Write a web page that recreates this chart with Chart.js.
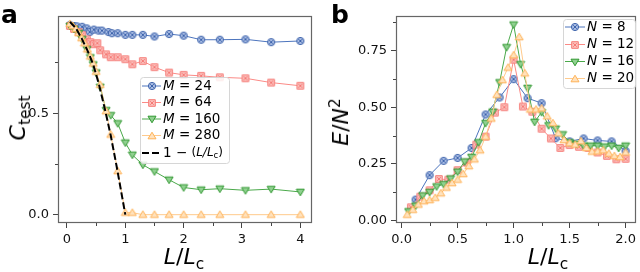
<!DOCTYPE html>
<html><head><meta charset="utf-8">
<script src="https://cdn.jsdelivr.net/npm/chart.js@4.4.1/dist/chart.umd.min.js"></script>
<style>
html,body{margin:0;padding:0;background:#fff;width:640px;height:272px;overflow:hidden;font-family:"DejaVu Sans",sans-serif;}
.wrap{position:absolute;top:0;}
.lbl{position:absolute;font-family:"DejaVu Sans";font-size:22px;color:#000;white-space:nowrap;line-height:1;}
.it{font-style:italic;}
.sub{font-size:70%;position:relative;top:0.3em;}
.sup{font-size:70%;position:relative;top:-0.5em;}
.pl{position:absolute;font-family:"DejaVu Sans";font-weight:bold;font-size:25px;line-height:1;color:#000;}
</style></head>
<body>
<div class="wrap" style="left:0;width:330px;height:272px"><canvas id="ca" width="330" height="272"></canvas></div>
<div class="wrap" style="left:330px;width:310px;height:272px"><canvas id="cb" width="310" height="272"></canvas></div>
<div class="pl" style="left:1px;top:2px">a</div>
<div class="pl" style="left:331px;top:2px">b</div>
<div class="lbl" style="left:184px;top:257px;transform:translate(-50%,-50%)"><span class="it">L</span>/<span class="it">L</span><span class="sub">c</span></div>
<div class="lbl" style="left:548px;top:257px;transform:translate(-50%,-50%)"><span class="it">L</span>/<span class="it">L</span><span class="sub">c</span></div>
<div class="lbl" style="left:18px;top:118px;transform:translate(-50%,-50%) rotate(-90deg)"><span class="it">C</span><span class="sub">test</span></div>
<div class="lbl" style="left:341px;top:122px;transform:translate(-50%,-50%) rotate(-90deg)"><span class="it">E</span>/<span class="it">N</span><span class="sup">2</span></div>
<script>
// ---------- Panel a data ----------
const xM24 = [0.05,0.12,0.17,0.26,0.34,0.39,0.46,0.54,0.6,0.71,0.77,0.87,1.0,1.12,1.3,1.5,1.75,2.0,2.3,2.62,3.06,3.5,4.0];
const yM24 = [0.935,0.93,0.928,0.926,0.918,0.900,0.912,0.907,0.907,0.900,0.894,0.894,0.886,0.886,0.886,0.878,0.890,0.882,0.862,0.862,0.864,0.850,0.856];
const xM64 = [0.05,0.12,0.2,0.26,0.34,0.4,0.46,0.52,0.57,0.67,0.75,0.87,1.0,1.12,1.3,1.5,1.75,2.0,2.3,2.62,3.06,3.5,4.0];
const yM64 = [0.93,0.915,0.9,0.885,0.864,0.85,0.84,0.845,0.81,0.79,0.776,0.776,0.766,0.741,0.757,0.727,0.70,0.689,0.684,0.677,0.672,0.651,0.635];
const xM160 = [0.05,0.12,0.2,0.26,0.34,0.4,0.45,0.5,0.57,0.67,0.75,0.87,1.0,1.12,1.3,1.5,1.75,2.0,2.3,2.62,3.06,3.5,4.0];
const yM160 = [0.93,0.915,0.895,0.865,0.815,0.775,0.74,0.70,0.63,0.515,0.49,0.45,0.355,0.295,0.246,0.213,0.172,0.134,0.123,0.128,0.12,0.126,0.112];
const xM280 = [0.05,0.1,0.15,0.2,0.25,0.3,0.35,0.4,0.45,0.5,0.57,0.67,0.75,0.87,1.0,1.12,1.3,1.5,1.75,2.0,2.3,2.62,3.06,3.5,4.0];
const yM280 = [0.94,0.93,0.915,0.895,0.87,0.845,0.815,0.78,0.745,0.705,0.64,0.51,0.395,0.215,0.01,0.01,0.0,0.0,0.0,0.0,0.0,0.0,0.0,0.0,0.0];
const xRef = [0.05,0.15,0.25,0.35,0.45,0.55,0.65,0.75,0.85,0.95,1.0];
const yRef = [0.95,0.92,0.87,0.81,0.74,0.64,0.52,0.39,0.24,0.08,0.0];
const xTicksA = [0,1,2,3,4];
const xTickLabelsA = ['0','1','2','3','4'];
const xMinorA = [0.5,1.5,2.5,3.5];
const yTicksA = [0,0.5];
const yTickLabelsA = ['0.0','0.5'];
const yMinorA = [0.25,0.75];
const legendA = ['M = 24','M = 64','M = 160','M = 280','1 − (L/Lc)'];

// ---------- Panel b data ----------
const xN8 = [0.125,0.25,0.375,0.5,0.625,0.75,0.875,1.0,1.125,1.25,1.375,1.5,1.625,1.75,1.875,2.0];
const yN8 = [0.092,0.20,0.263,0.276,0.32,0.468,0.543,0.624,0.54,0.518,0.363,0.349,0.362,0.353,0.349,0.307];
const xN12 = [0.083,0.167,0.25,0.333,0.417,0.5,0.583,0.667,0.75,0.833,0.917,1.0,1.083,1.167,1.25,1.333,1.417,1.5,1.583,1.667,1.75,1.833,1.917,2.0];
const yN12 = [0.058,0.105,0.133,0.183,0.18,0.222,0.255,0.335,0.37,0.476,0.50,0.71,0.503,0.48,0.405,0.362,0.32,0.333,0.325,0.32,0.30,0.285,0.27,0.272];
const xN16 = [0.0625,0.125,0.1875,0.25,0.3125,0.375,0.4375,0.5,0.5625,0.625,0.6875,0.75,0.8125,0.875,0.9375,1.0,1.0625,1.125,1.1875,1.25,1.3125,1.375,1.4375,1.5,1.5625,1.625,1.6875,1.75,1.8125,1.875,1.9375,2.0];
const yN16 = [0.04,0.065,0.11,0.125,0.15,0.16,0.185,0.215,0.26,0.28,0.345,0.43,0.48,0.61,0.765,0.865,0.69,0.585,0.435,0.478,0.42,0.405,0.38,0.345,0.338,0.33,0.33,0.33,0.326,0.33,0.32,0.33];
const xN20 = [0.05,0.1,0.15,0.2,0.25,0.3,0.35,0.4,0.45,0.5,0.55,0.6,0.65,0.7,0.75,0.8,0.85,0.9,0.95,1.0,1.05,1.1,1.15,1.2,1.25,1.3,1.35,1.4,1.45,1.5,1.55,1.6,1.65,1.7,1.75,1.8,1.85,1.9,1.95,2.0];
const yN20 = [0.025,0.047,0.07,0.085,0.09,0.10,0.12,0.145,0.165,0.18,0.205,0.24,0.27,0.31,0.37,0.45,0.555,0.62,0.675,0.73,0.81,0.65,0.49,0.49,0.495,0.46,0.43,0.385,0.355,0.341,0.335,0.35,0.32,0.304,0.305,0.31,0.295,0.285,0.28,0.30];
const xTicksB = [0,0.5,1,1.5,2];
const xTickLabelsB = ['0.0','0.5','1.0','1.5','2.0'];
const xMinorB = [0.25,0.75,1.25,1.75];
const yTicksB = [0,0.25,0.5,0.75];
const yTickLabelsB = ['0.00','0.25','0.50','0.75'];
const yMinorB = [0.125,0.375,0.625,0.875];
const legendB = ['N = 8','N = 12','N = 16','N = 20'];

// ---------- styles ----------
const COL = {
  blue:{line:'#4c74bd',stroke:'#3d63ab',fill:'#a8bce4'},
  red:{line:'#fb8a86',stroke:'#f57a76',fill:'#fcc0bc'},
  green:{line:'#4aa94a',stroke:'#2f972f',fill:'#8fd08f'},
  orange:{line:'#ffca8c',stroke:'#ffb257',fill:'#ffe2bd'}
};
function marker(shape,c){
  const s=10, cv=document.createElement('canvas'); cv.width=s; cv.height=s;
  const g=cv.getContext('2d'); g.lineWidth=1; g.strokeStyle=c.stroke; g.fillStyle=c.fill;
  const m=s/2;
  g.beginPath();
  if(shape==='circ'){ g.arc(m,m,3.6,0,Math.PI*2); }
  else if(shape==='sq'){ g.rect(m-3.3,m-3.3,6.6,6.6); }
  else if(shape==='tdown'){ g.moveTo(m-4,m-2.8); g.lineTo(m+4,m-2.8); g.lineTo(m,m+3.8); g.closePath(); }
  else { g.moveTo(m-4,m+2.8); g.lineTo(m+4,m+2.8); g.lineTo(m,m-3.8); g.closePath(); }
  g.fill(); g.stroke();
  if(shape==='circ'||shape==='sq'){
    g.beginPath(); g.moveTo(m-1.8,m-1.8); g.lineTo(m+1.8,m+1.8); g.moveTo(m+1.8,m-1.8); g.lineTo(m-1.8,m+1.8); g.stroke();
  }
  return cv;
}
const MK = {
  blue:marker('circ',COL.blue), red:marker('sq',COL.red),
  green:marker('tdown',COL.green), orange:marker('tup',COL.orange)
};
function pts(xs,ys){return xs.map((x,i)=>({x:x,y:ys[i]}));}
function ds(label,xs,ys,key,order){
  return {label:label,data:pts(xs,ys),borderColor:COL[key].line,backgroundColor:COL[key].fill,borderWidth:1,
    pointStyle:MK[key],pointRadius:4,pointHoverRadius:4,showLine:true,tension:0,order:order,clip:false};
}

const framePlugin = {
  id:'frame',
  afterDraw(chart,args,o){
    const {ctx,chartArea:a}=chart, xs=chart.scales.x, ys=chart.scales.y;
    ctx.save(); ctx.strokeStyle='#444'; ctx.lineWidth=1; ctx.setLineDash([]);
    (o.xMinor||[]).forEach(v=>{const p=Math.round(xs.getPixelForValue(v))+0.5;ctx.beginPath();ctx.moveTo(p,a.bottom);ctx.lineTo(p,a.bottom+3);ctx.stroke();});
    (o.yMinor||[]).forEach(v=>{const p=Math.round(ys.getPixelForValue(v))+0.5;ctx.beginPath();ctx.moveTo(a.left,p);ctx.lineTo(a.left-3,p);ctx.stroke();});
    ctx.strokeStyle='#666'; ctx.lineWidth=1.2;
    ctx.strokeRect(Math.round(a.left)+0.5,Math.round(a.top)+0.5,Math.round(a.right-a.left)-1,Math.round(a.bottom-a.top)-1);
    ctx.restore();
  }
};
function rr(ctx,x,y,w,h,r){ctx.beginPath();ctx.moveTo(x+r,y);ctx.lineTo(x+w-r,y);ctx.arcTo(x+w,y,x+w,y+r,r);ctx.lineTo(x+w,y+h-r);ctx.arcTo(x+w,y+h,x+w-r,y+h,r);ctx.lineTo(x+r,y+h);ctx.arcTo(x,y+h,x,y+h-r,r);ctx.lineTo(x,y+r);ctx.arcTo(x,y,x+r,y,r);ctx.closePath();}
const legendPlugin = {
  id:'boxLegend',
  afterDraw(chart,args,o){
    const ctx=chart.ctx; ctx.save();
    rr(ctx,o.x+0.5,o.y+0.5,o.w,o.h,3); ctx.fillStyle='rgba(255,255,255,0.85)'; ctx.fill(); ctx.strokeStyle='#d6d6d6'; ctx.lineWidth=1; ctx.stroke();
    o.items.forEach((it,i)=>{
      const d=chart.data.datasets[it.ds], cy=o.rows[i];
      ctx.strokeStyle=d.borderColor; ctx.lineWidth=d.borderWidth; ctx.setLineDash(d.borderDash||[]);
      ctx.beginPath(); ctx.moveTo(o.lx0,cy); ctx.lineTo(o.lx1,cy); ctx.stroke(); ctx.setLineDash([]);
      if(d.pointRadius>0){const im=d.pointStyle; ctx.drawImage(im,Math.round((o.lx0+o.lx1)/2-im.width/2),Math.round(cy-im.height/2));}
      let x=o.tx; ctx.fillStyle='#000'; ctx.textBaseline='middle';
      it.parts.forEach(p=>{ctx.font=p[1]; ctx.fillText(p[0],x,cy+(p[2]||0)); x+=ctx.measureText(p[0]).width;});
    });
    ctx.restore();
  }
};
function scaleOpts(min,max,ticks,labels,axis,size){
  return {type:'linear',min:min,max:max,
    afterBuildTicks:s=>{s.ticks=ticks.map(v=>({value:v}));},
    afterFit:s=>{ if(axis==='x') s.height=size; else s.width=size; },
    ticks:{autoSkip:false,maxRotation:0,padding:axis==='x'?4:4,color:'#111',font:{family:'DejaVu Sans',size:13},
      callback:(v,i)=>labels[ticks.indexOf(v)]!==undefined?labels[ticks.indexOf(v)]:''},
    grid:{display:true,drawOnChartArea:false,drawTicks:true,tickLength:5,color:'#444',tickWidth:1},
    border:{display:false}};
}
const F='"DejaVu Sans"';
const reg=sz=>sz+'px '+F, itl=sz=>'italic '+sz+'px '+F;

new Chart(document.getElementById('ca'),{
  type:'scatter',
  data:{datasets:[
    ds(legendA[0],xM24,yM24,'blue',4),
    ds(legendA[1],xM64,yM64,'red',3),
    ds(legendA[2],xM160,yM160,'green',2),
    ds(legendA[3],xM280,yM280,'orange',1),
    {label:legendA[4],data:pts(xRef,yRef),borderColor:'#000',borderWidth:2,borderDash:[7,3],pointRadius:0,showLine:true,order:0,tension:0}
  ]},
  options:{responsive:false,devicePixelRatio:1,animation:false,events:[],
    layout:{autoPadding:false,padding:{left:0,top:16,right:18,bottom:0}},
    scales:{x:scaleOpts(-0.154,4.2,xTicksA,xTickLabelsA,'x',49),y:scaleOpts(-0.041,0.979,yTicksA,yTickLabelsA,'y',58)},
    plugins:{legend:{display:false},tooltip:{enabled:false},
      frame:{xMinor:xMinorA,yMinor:yMinorA},
      boxLegend:{x:140,y:77,w:89,h:86,lx0:142,lx1:161,tx:163,rows:[86,102.5,119,135.5,153],
        items:[
          {ds:0,parts:[['M',itl(13.5)],[' = 24',reg(13.5)]]},
          {ds:1,parts:[['M',itl(13.5)],[' = 64',reg(13.5)]]},
          {ds:2,parts:[['M',itl(13.5)],[' = 160',reg(13.5)]]},
          {ds:3,parts:[['M',itl(13.5)],[' = 280',reg(13.5)]]},
          {ds:4,parts:[['1 − ',reg(13.5)],['(',reg(12)],['L/L',itl(12)],['c',reg(8.5),3],[')',reg(12)]]}
        ]}
    }},
  plugins:[framePlugin,legendPlugin]
});

new Chart(document.getElementById('cb'),{
  type:'scatter',
  data:{datasets:[
    ds(legendB[0],xN8,yN8,'blue',4),
    ds(legendB[1],xN12,yN12,'red',3),
    ds(legendB[2],xN16,yN16,'green',2),
    ds(legendB[3],xN20,yN20,'orange',1)
  ]},
  options:{responsive:false,devicePixelRatio:1,animation:false,events:[],
    layout:{autoPadding:false,padding:{left:0,top:16,right:1,bottom:0}},
    scales:{x:scaleOpts(-0.05,2.094,xTicksB,xTickLabelsB,'x',49),y:scaleOpts(-0.0115,0.903,yTicksB,yTickLabelsB,'y',66)},
    plugins:{legend:{display:false},tooltip:{enabled:false},
      frame:{xMinor:xMinorB,yMinor:yMinorB},
      boxLegend:{x:233,y:19,w:72,h:69,lx0:235,lx1:255,tx:257,rows:[27,44.5,61.5,78.5],
        items:[
          {ds:0,parts:[['N',itl(13.5)],[' = 8',reg(13.5)]]},
          {ds:1,parts:[['N',itl(13.5)],[' = 12',reg(13.5)]]},
          {ds:2,parts:[['N',itl(13.5)],[' = 16',reg(13.5)]]},
          {ds:3,parts:[['N',itl(13.5)],[' = 20',reg(13.5)]]}
        ]}
    }},
  plugins:[framePlugin,legendPlugin]
});
</script>
</body></html>
